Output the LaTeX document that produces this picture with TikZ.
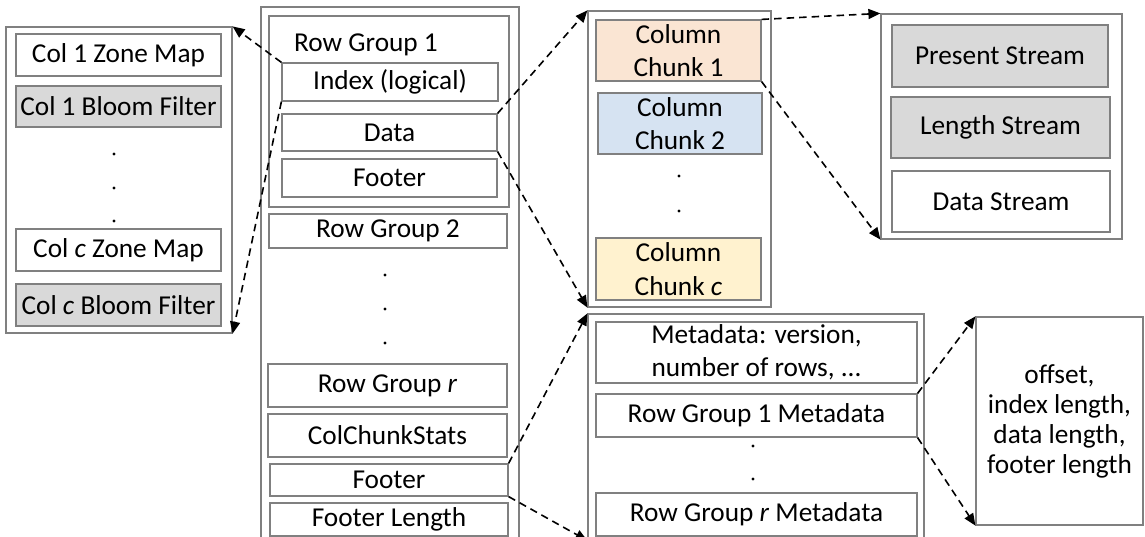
\documentclass[tikz,border=0pt]{standalone}
\usepackage{fontspec}
\setmainfont{Carlito}
\usetikzlibrary{arrows.meta}

\definecolor{edgegray}{HTML}{808080}
\definecolor{shadegray}{HTML}{D9D9D9}
\definecolor{chunkorange}{HTML}{FAE5D3}
\definecolor{chunkblue}{HTML}{D6E3F2}
\definecolor{chunkyellow}{HTML}{FFF2CF}

\begin{document}
\begin{tikzpicture}[
        x=1pt, y=-1pt,
        every node/.style={font=\fontsize{27.3}{33.5}\selectfont},
        box/.style={draw=edgegray, line width=1.2pt, inner sep=2pt, align=center},
        wh/.style 2 args={minimum width=#1pt, minimum height=#2pt},
        shaded/.style={fill=shadegray},
        link/.style={line width=1.6pt, dash pattern=on 7.5pt off 5pt,
            -{Triangle[length=12pt,width=10pt]}}
    ]
    \useasboundingbox (0,0) rectangle (1145,537);
    \clip (0,0) rectangle (1145,537);

    % zone maps and bloom filters
    \node[box, wh={226}{306}] (zonepanel) at (119,180) {};
    \node[box, wh={205}{42}] (zm1) at (118.5,55) {Col 1 Zone Map};
    \node[box, wh={205}{41}, shaded] (bf1) at (118.5,106.5) {Col 1 Bloom Filter};
    \node[box, wh={205}{42}] (zmc) at (118.5,250) {Col \textit{c} Zone Map};
    \node[box, wh={205}{42}, shaded] (bfc) at (118.5,305) {Col \textit{c} Bloom Filter};
    \foreach \y in {154,188,221} {
        \fill (114,\y) circle (1.6pt);
    }

    % file layout
    \node[box, wh={258}{533}] (filepanel) at (390,273.5) {};
    \node[box, wh={240}{191}] (rg1) at (389,111.5) {};
    \node (rg1label) at (366,45) {Row Group 1};
    \node[box, wh={216}{38}] (idx) at (390,82) {Index (logical)};
    \node[box, wh={215}{37}] (data) at (389.5,132.5) {Data};
    \node[box, wh={215}{38}] (rgfooter) at (389.5,178) {Footer};
    \node[box, wh={238}{34}] (rg2) at (388,231) {Row Group 2};
    \foreach \y in {275,309,343} {
        \fill (385,\y) circle (1.6pt);
    }
    \node[box, wh={239}{43}] (rgr) at (387.5,385.5) {Row Group \textit{r}};
    \node[box, wh={239}{43}] (stats) at (387.5,435.5) {ColChunkStats};
    \node[box, wh={238}{32}] (footer) at (389,480) {Footer};
    \node[box, wh={238}{33}] (footerlen) at (389,519.5) {Footer Length};

    % column chunks
    \node[box, wh={183}{296}] (chunkpanel) at (679.5,159) {};
    \node[box, wh={165}{61}, fill=chunkorange] (ck1) at (678.5,50.5) {Column\\Chunk 1};
    \node[box, wh={164}{61}, fill=chunkblue] (ck2) at (680,123.5) {Column\\Chunk 2};
    \node[box, wh={165}{62}, fill=chunkyellow] (ckc) at (678.5,269) {Column\\Chunk \textit{c}};
    \foreach \y in {176,211} {
        \fill (679,\y) circle (1.6pt);
    }

    % streams
    \node[box, wh={241}{225}] (streampanel) at (1001.5,126.5) {};
    \node[box, wh={216}{62}, shaded] (present) at (1000,56) {Present Stream};
    \node[box, wh={219}{61}, shaded] (length) at (1000.5,127.5) {Length Stream};
    \node[box, wh={218}{61}] (datastream) at (1001,201.5) {Data Stream};

    % file metadata
    \node[box, wh={336}{226}] (metapanel) at (756,427) {};
    \node[box, wh={321}{61}] (meta) at (756.5,352.5) {Metadata: version,\\number of rows, ...};
    \node[box, wh={321}{43}] (rg1meta) at (756.5,415.5) {Row Group 1 Metadata};
    \node[box, wh={321}{43}] (rgrmeta) at (756.5,514.5) {Row Group \textit{r} Metadata};
    \foreach \y in {446,479} {
        \fill (753,\y) circle (1.6pt);
    }

    \node[box, wh={167}{208}, font=\fontsize{27.3}{30}\selectfont] (offsetbox) at (1059.5,421)
        {offset,\\index length,\\data length,\\footer length};

    % links between the levels
    \draw[link] (idx.north west) -- (zonepanel.north east);
    \draw[link] (idx.south west) -- (zonepanel.south east);
    \draw[link] (data.north east) -- (chunkpanel.north west);
    \draw[link] (data.south east) -- (chunkpanel.south west);
    \draw[link] (ck1.north east) -- (streampanel.north west);
    \draw[link] (ck1.south east) -- (streampanel.south west);
    \draw[link] (footer.north east) -- (metapanel.north west);
    \draw[link] (footer.south east) -- (metapanel.south west);
    \draw[link] (rg1meta.north east) -- (offsetbox.north west);
    \draw[link] (rg1meta.south east) -- (offsetbox.south west);

\end{tikzpicture}
\end{document}
